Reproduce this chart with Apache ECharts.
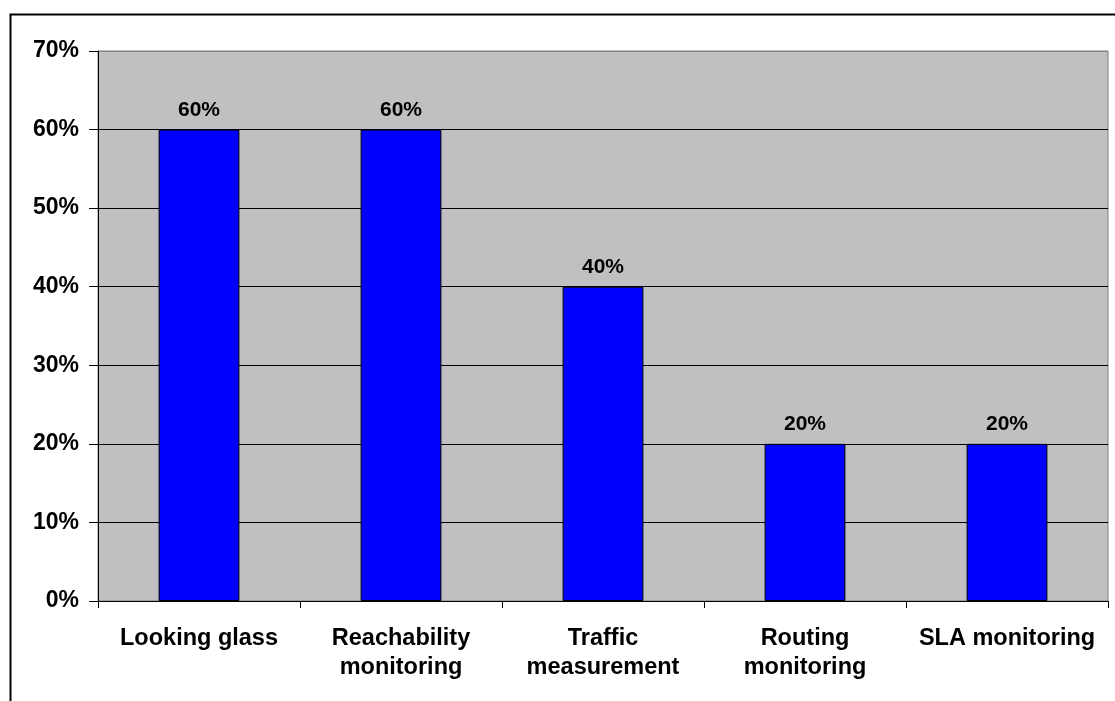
<!DOCTYPE html>
<html>
<head>
<meta charset="utf-8">
<script src="https://cdn.jsdelivr.net/npm/echarts@6/dist/echarts.min.js"></script>
<style>
  html, body { margin: 0; padding: 0; background: #ffffff; }
  #chart { width: 1115px; height: 701px; }
</style>
</head>
<body>
<div id="chart"></div>
<script>
// Share of respondents using each monitoring tool
const categories = [
  'Looking glass',
  'Reachability\nmonitoring',
  'Traffic\nmeasurement',
  'Routing\nmonitoring',
  'SLA monitoring'
];
const shares = [60, 60, 40, 20, 20];
const yTicks = [0, 10, 20, 30, 40, 50, 60, 70];

const FONT = '"Liberation Sans", Arial, sans-serif';

const chart = echarts.init(document.getElementById('chart'), null, { renderer: 'canvas' });

// interior gridlines are black, the top edge of the plot is grey
const splitColors = yTicks.map((t, i) => (i === yTicks.length - 1 ? '#808080' : '#000000'));

chart.setOption({
  animation: false,
  backgroundColor: '#ffffff',
  graphic: [{
    type: 'rect',
    left: 8, top: 12,
    shape: { width: 2000, height: 2000 },
    style: { fill: 'none', stroke: '#000000', lineWidth: 2 },
    z: 100
  }],
  grid: {
    left: 98, top: 51, right: 7, bottom: 100,
    show: true,
    backgroundColor: '#c0c0c0',
    borderColor: '#808080',
    borderWidth: 1
  },
  xAxis: {
    type: 'category',
    data: categories,
    axisLine: { lineStyle: { color: '#000000', width: 1 } },
    axisTick: { show: true, length: 7, lineStyle: { color: '#000000' } },
    axisLabel: {
      interval: 0,
      margin: 23,
      color: '#000000',
      fontFamily: FONT,
      fontWeight: 'bold',
      fontSize: 23.5,
      lineHeight: 29,
      align: 'center'
    }
  },
  yAxis: {
    type: 'value',
    min: 0, max: 70, interval: 10,
    axisLine: { show: true, lineStyle: { color: '#000000', width: 1 } },
    axisTick: { show: true, length: 9, lineStyle: { color: '#000000' } },
    splitLine: { show: true, lineStyle: { color: splitColors, width: 1 } },
    axisLabel: {
      margin: 19,
      color: '#000000',
      fontFamily: FONT,
      fontWeight: 'bold',
      fontSize: 23,
      formatter: v => v + '%'
    }
  },
  series: [{
    type: 'bar',
    data: shares,
    barWidth: '40%',
    itemStyle: { color: '#0000ff', borderColor: '#000000', borderWidth: 1 },
    label: {
      show: true,
      position: 'top',
      distance: 9,
      color: '#000000',
      fontFamily: FONT,
      fontWeight: 'bold',
      fontSize: 21,
      formatter: p => p.value + '%'
    }
  }]
});
</script>
</body>
</html>
